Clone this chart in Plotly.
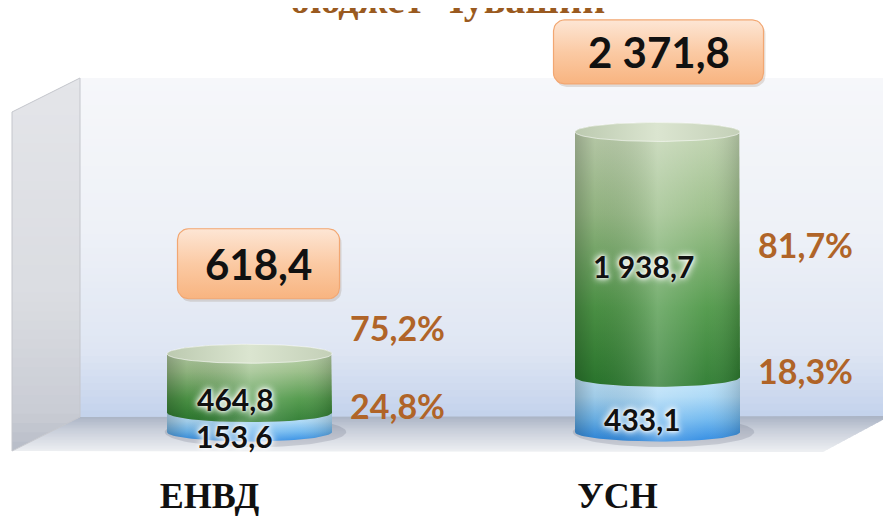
import numpy as np
import plotly.graph_objects as go

# ---------------- data ----------------
categories = ["ЕНВД", "УСН"]
lower_values = [153.6, 433.1]      # blue part
upper_values = [464.8, 1938.7]     # green part
total_values = [618.4, 2371.8]
lower_labels = ["153,6", "433,1"]
upper_labels = ["464,8", "1 938,7"]
total_labels = ["618,4", "2 371,8"]
lower_pct_labels = ["24,8%", "18,3%"]
upper_pct_labels = ["75,2%", "81,7%"]
title_text = "бюджет Чувашии"

# ---------------- layout constants ----------------
W, H = 891, 518
PAGE_OFF = 8                       # page body margin offsets the figure by 8 px
MARGIN_B = 58
PLOT_H = H - MARGIN_B
X_RANGE = [-0.5919, 1.5919]
Y_RANGE = [-284.6, 3351.5]
PX_PER_X = W / (X_RANGE[1] - X_RANGE[0])
PX_PER_Y = PLOT_H / (Y_RANGE[1] - Y_RANGE[0])


def dx(px):
    return px / PX_PER_X


def dy(px):
    return px / PX_PER_Y


CYL_HALF_W = dx(82.5)
CYL_H = dy(9.5)

SANS = "Lato"
SERIF = "Liberation Serif"
PCT_COLOR = "#b06428"

fig = go.Figure()

# ---------------- background (3D walls) as banded shapes ----------------
def hex2rgb(h):
    h = h.lstrip("#")
    return [int(h[i:i + 2], 16) for i in (0, 2, 4)]


def interp(stops, t):
    for (p0, c0), (p1, c1) in zip(stops[:-1], stops[1:]):
        if p0 <= t <= p1:
            u = 0 if p1 == p0 else (t - p0) / (p1 - p0)
            a, b = hex2rgb(c0), hex2rgb(c1)
            return "rgb(%d,%d,%d)" % tuple(round(a[k] + (b[k] - a[k]) * u) for k in range(3))
    return stops[-1][1]


def clip_half(pts, inside, yv):
    out = []
    for i in range(len(pts)):
        cur, prev = pts[i], pts[i - 1]
        def inter(p, q):
            t = (yv - p[1]) / (q[1] - p[1])
            return (p[0] + t * (q[0] - p[0]), yv)
        if inside(cur):
            if not inside(prev):
                out.append(inter(prev, cur))
            out.append(cur)
        elif inside(prev):
            out.append(inter(prev, cur))
    return out


def px_path(pts, close=True):
    s = ""
    for k, (px, py) in enumerate(pts):
        fx, fy = px - PAGE_OFF, py - PAGE_OFF
        s += ("M" if k == 0 else "L") + "%.5f,%.5f " % (fx / W, (PLOT_H - fy) / PLOT_H)
    return s + ("Z" if close else "")


shapes = []


def gradient_poly(poly, stops, n=40):
    ys = [p[1] for p in poly]
    y0, y1 = min(ys), max(ys)
    step = (y1 - y0) / n
    for j in range(n):
        ya = y0 + j * step
        yb = min(y1, ya + step + 0.8)
        pts = clip_half(poly, lambda p: p[1] >= ya, ya)
        if len(pts) < 3:
            continue
        pts = clip_half(pts, lambda p: p[1] <= yb, yb)
        if len(pts) < 3:
            continue
        col = interp(stops, (ya + step / 2 - y0) / (y1 - y0))
        shapes.append(dict(type="path", xref="paper", yref="paper", path=px_path(pts),
                           fillcolor=col, line=dict(width=0), layer="below"))


back_wall = [(80, 78), (890, 78), (890, 417), (80, 417)]
left_wall = [(12, 112), (80, 78), (80, 417), (12, 451)]
floor = [(12, 451), (80, 417), (890, 416), (823, 452)]

gradient_poly(back_wall, [(0, "#f6f7fa"), (0.45, "#eef1f7"), (0.8, "#dfe6f3"), (1, "#c3d2ec")], 50)
gradient_poly(left_wall, [(0, "#e4e5e9"), (0.6, "#dadce1"), (0.9, "#c9ccd4"), (1, "#b7bcc7")], 40)
gradient_poly(floor, [(0, "#a9b2c4"), (0.35, "#c6ccd8"), (1, "#eef0f3")], 24)
shapes.append(dict(type="path", xref="paper", yref="paper", path=px_path(left_wall),
                   fillcolor="rgba(0,0,0,0)", line=dict(color="#c4c6cc", width=1), layer="below"))
shapes.append(dict(type="path", xref="paper", yref="paper",
                   path=px_path([(889, 78), (889, 416)], close=False),
                   line=dict(color="#e9edf4", width=2), layer="below"))

# ---------------- cylinders ----------------
def lower_arc(cx, cy, w, h, n=48):
    t = np.linspace(np.pi, 2 * np.pi, n)
    return list(cx + w * np.cos(t)), list(cy + h * np.sin(t))


def upper_arc(cx, cy, w, h, n=48):
    t = np.linspace(0, np.pi, n)
    return list(cx + w * np.cos(t)), list(cy + h * np.sin(t))


def poly_trace(xs, ys, grad=None, color=None, line=None):
    kw = dict(x=xs, y=ys, mode="lines", fill="toself", hoverinfo="skip", showlegend=False,
              line=line or dict(width=0))
    if grad is not None:
        kw["fillgradient"] = grad
    else:
        kw["fillcolor"] = color
    fig.add_trace(go.Scatter(**kw))


SHADE = dict(type="horizontal", colorscale=[
    [0, "rgba(0,0,0,0.22)"], [0.12, "rgba(0,0,0,0.06)"], [0.5, "rgba(255,255,255,0.22)"],
    [0.8, "rgba(255,255,255,0.05)"], [1, "rgba(0,0,0,0.16)"]])
BLUE = dict(type="vertical", colorscale=[[0, "#2a88e2"], [0.35, "#6fb8ef"], [0.7, "#aad8f6"], [1, "#c2e5fa"]])
GREEN = dict(type="vertical", colorscale=[[0, "#2b7a2e"], [0.3, "#4f9848"], [0.65, "#98bd86"], [1, "#c6d6b6"]])
CAP = dict(type="horizontal", colorscale=[[0, "#bccab0"], [0.5, "#dbe5d0"], [1, "#c4d0b8"]])

for i in range(len(categories)):
    lo = lower_values[i]
    tot = lower_values[i] + upper_values[i]
    w, h = CYL_HALF_W, CYL_H
    # soft shadow on the floor
    sx, sy = lower_arc(i + dx(6), 0, w * 1.1, h * 1.6)
    ux, uy = upper_arc(i + dx(6), 0, w * 1.1, h * 1.6)
    poly_trace(sx + ux, sy + uy, color="rgba(70,80,100,0.18)")
    # blue segment
    ax, ay = lower_arc(i, 0, w, h)
    bx, by = lower_arc(i, lo, w, h)
    xs = ax + bx[::-1]
    ys = ay + by[::-1]
    poly_trace(xs, ys, grad=BLUE)
    poly_trace(xs, ys, grad=SHADE)
    # green segment
    cx_, cy_ = lower_arc(i, lo, w, h)
    tx, ty = upper_arc(i, tot, w, h)
    xs = cx_ + tx
    ys = cy_ + ty
    poly_trace(xs, ys, grad=GREEN)
    poly_trace(xs, ys, grad=SHADE)
    # top cap
    lx, ly = lower_arc(i, tot, w, h)
    poly_trace(lx + tx, ly + ty, grad=CAP, line=dict(color="rgba(255,255,255,0.55)", width=1))

# ---------------- total boxes ----------------
box_dx_px = [9, 1]
box_gap_px = [90, 80]
box_w_px = [162, 210]
box_h_px = [70, 64]
BOX_GRAD = dict(type="vertical", colorscale=[[0, "#f8b480"], [0.5, "#fbcaa4"], [1, "#fde6d5"]])


def rounded_rect(cx, cy, wpx, hpx, r=11, n=8, offx=0, offy=0):
    pts = []
    corners = [(wpx / 2 - r, -hpx / 2 + r, -np.pi / 2, 0), (wpx / 2 - r, hpx / 2 - r, 0, np.pi / 2),
               (-wpx / 2 + r, hpx / 2 - r, np.pi / 2, np.pi), (-wpx / 2 + r, -hpx / 2 + r, np.pi, 1.5 * np.pi)]
    for (ox, oy, a0, a1) in corners:
        for t in np.linspace(a0, a1, n):
            pts.append((ox + r * np.cos(t) + offx, oy + r * np.sin(t) + offy))
    xs = [cx + dx(p[0]) for p in pts]
    ys = [cy - dy(p[1]) for p in pts]
    return xs + xs[:1], ys + ys[:1]


annotations = []
for i in range(len(categories)):
    cx = i + dx(box_dx_px[i])
    cy = total_values[i] + dy(box_gap_px[i])
    xs, ys = rounded_rect(cx, cy, box_w_px[i], box_h_px[i], offx=2, offy=3)
    poly_trace(xs, ys, color="rgba(120,90,60,0.18)")
    xs, ys = rounded_rect(cx, cy, box_w_px[i], box_h_px[i])
    poly_trace(xs, ys, grad=BOX_GRAD, line=dict(color="#f2a772", width=1.2))
    annotations.append(dict(x=cx, y=cy, text=total_labels[i], showarrow=False,
                            font=dict(family=SANS, size=42, color="#111111", weight="bold")))

# ---------------- value labels inside cylinders ----------------
GLOW = "0px 0px 3px #ffffff, 0px 0px 6px #ffffff, 0px 0px 8px #ffffff"
upper_label_shift = [-16, -11]
lower_label_shift = [-14, -14]
for i in range(len(categories)):
    lo = lower_values[i]
    tot = lower_values[i] + upper_values[i]
    annotations.append(dict(x=i, y=(lo + tot) / 2, xshift=-14, yshift=upper_label_shift[i],
                            text=upper_labels[i], showarrow=False,
                            font=dict(family=SANS, size=30, color="#111111", weight="bold", shadow=GLOW)))
    annotations.append(dict(x=i, y=lo / 2, xshift=-15, yshift=lower_label_shift[i],
                            text=lower_labels[i], showarrow=False,
                            font=dict(family=SANS, size=30, color="#111111", weight="bold", shadow=GLOW)))

# ---------------- percentage labels ----------------
pct_x_off = 0.362
upper_pct_shift = [56, 10]
for i in range(len(categories)):
    lo = lower_values[i]
    tot = lower_values[i] + upper_values[i]
    annotations.append(dict(x=i + pct_x_off, y=lo, yshift=7, text=lower_pct_labels[i], showarrow=False,
                            font=dict(family=SANS, size=34, color=PCT_COLOR, weight="bold")))
    annotations.append(dict(x=i + pct_x_off, y=(lo + tot) / 2, yshift=upper_pct_shift[i],
                            text=upper_pct_labels[i], showarrow=False,
                            font=dict(family=SANS, size=34, color=PCT_COLOR, weight="bold")))

# ---------------- title (cut off by the top edge, as in the picture) ----------------
annotations.append(dict(xref="paper", yref="paper", x=(447 - PAGE_OFF) / W,
                        y=(PLOT_H + 1 + PAGE_OFF) / PLOT_H,
                        xanchor="center", yanchor="middle", text=title_text, showarrow=False,
                        font=dict(family=SERIF, size=40, color="#9a5a20", weight="bold")))

fig.update_layout(
    width=W, height=H,
    margin=dict(l=0, r=0, t=0, b=MARGIN_B, pad=0),
    paper_bgcolor="white", plot_bgcolor="rgba(0,0,0,0)",
    shapes=shapes, annotations=annotations, showlegend=False,
    xaxis=dict(range=X_RANGE, tickmode="array", tickvals=list(range(len(categories))),
               ticktext=categories, showgrid=False, zeroline=False, showline=False,
               ticks="", ticklabelshift=-40, ticklabelstandoff=3,
               tickfont=dict(family=SERIF, size=36, color="#111111", weight="bold"),
               fixedrange=True),
    yaxis=dict(range=Y_RANGE, visible=False, fixedrange=True),
)

fig.write_html("out.html")
